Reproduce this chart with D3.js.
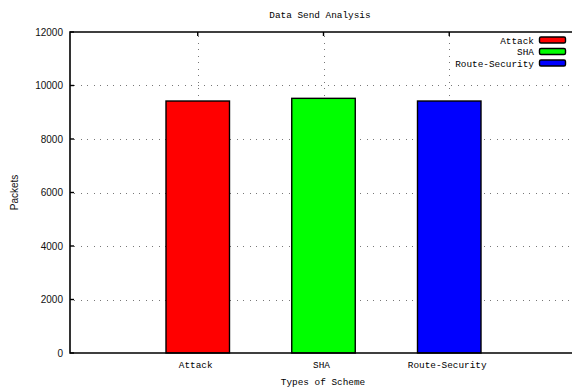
<!DOCTYPE html>
<html>
<head>
<meta charset="utf-8">
<script src="https://cdn.jsdelivr.net/npm/d3@7/dist/d3.min.js"></script>
<style>
  html, body { margin: 0; padding: 0; background: #fff; }
  svg { display: block; }
  .mono { font-family: "Liberation Mono", "DejaVu Sans Mono", monospace; font-size: 9.4px; fill: #000; }
  .sans { font-family: "Liberation Sans", Arial, sans-serif; font-size: 10px; fill: #111; }
</style>
</head>
<body>
<script>
// Packets sent per scheme
const categories = ["Attack", "SHA", "Route-Security"];
const packets = [9420, 9520, 9420];
const colors = ["#ff0000", "#00ff00", "#0000ff"];
const yTicks = [0, 2000, 4000, 6000, 8000, 10000, 12000];

const W = 572, H = 387;
const plotL = 70, plotT = 32, plotB = 353, plotR = 572;

const svg = d3.select("body").append("svg").attr("width", W).attr("height", H);

const x = d3.scaleLinear().domain([-1, 3]).range([plotL + 2, plotR + 3]);
const y = d3.scaleLinear().domain([0, 12000]).range([plotB, plotT]);
const barW = 0.505;

// dotted grid
const grid = svg.append("g").attr("stroke", "#777").attr("stroke-width", 1)
  .attr("stroke-dasharray", "1,5.5").attr("shape-rendering", "crispEdges");
grid.selectAll("line.h").data(yTicks.filter(d => d > 0 && d < 12000)).join("line")
  .attr("x1", plotL + 4).attr("x2", plotR)
  .attr("y1", d => Math.round(y(d)) + 0.5).attr("y2", d => Math.round(y(d)) + 0.5);
grid.selectAll("line.v").data(categories.map((c, i) => i)).join("line")
  .attr("x1", d => Math.round(x(d)) + 0.5).attr("x2", d => Math.round(x(d)) + 0.5)
  .attr("y1", plotT + 4).attr("y2", plotB);

// bars
svg.append("g").selectAll("rect").data(packets).join("rect")
  .attr("x", (d, i) => x(i - barW / 2))
  .attr("width", x(barW) - x(0))
  .attr("y", d => y(d))
  .attr("height", d => y(0) - y(d))
  .attr("fill", (d, i) => colors[i])
  .attr("stroke", "#000").attr("stroke-width", 1.4);

// border: left, bottom, top
const border = svg.append("g").attr("stroke", "#000").attr("stroke-width", 1.6).attr("fill", "none");
border.append("path").attr("d", `M${plotR},${plotT}H${plotL}V${plotB}H${plotR}`);

// y tick marks and labels
const ya = svg.append("g");
ya.selectAll("line").data(yTicks).join("line")
  .attr("x1", plotL).attr("x2", plotL + 4)
  .attr("y1", d => y(d)).attr("y2", d => y(d))
  .attr("stroke", "#000").attr("stroke-width", 1.4);
ya.selectAll("text").data(yTicks).join("text")
  .attr("class", "sans")
  .attr("x", plotL - 7).attr("y", d => y(d) + 3.5)
  .attr("text-anchor", "end")
  .text(d => d);

// x tick marks on top border and labels
const xa = svg.append("g");
xa.selectAll("line").data(categories.map((c, i) => i)).join("line")
  .attr("x1", d => x(d)).attr("x2", d => x(d))
  .attr("y1", plotT).attr("y2", plotT + 4)
  .attr("stroke", "#000").attr("stroke-width", 1.4);
xa.selectAll("text").data(categories).join("text")
  .attr("class", "mono")
  .attr("x", (d, i) => x(i) - 2).attr("y", 368)
  .attr("text-anchor", "middle")
  .text(d => d);

// titles
svg.append("text").attr("class", "mono").attr("x", 320).attr("y", 18)
  .attr("text-anchor", "middle").text("Data Send Analysis");
svg.append("text").attr("class", "mono").attr("x", 323).attr("y", 385)
  .attr("text-anchor", "middle").text("Types of Scheme");
svg.append("text").attr("class", "sans")
  .attr("transform", `translate(18,${(plotT + plotB) / 2}) rotate(-90)`)
  .attr("text-anchor", "middle").text("Packets");

// legend
const lg = svg.append("g");
categories.forEach((c, i) => {
  const ly = 40 + i * 11.5;
  lg.append("text").attr("class", "mono").attr("x", 534).attr("y", ly + 3.5)
    .attr("text-anchor", "end").text(c);
  lg.append("rect").attr("x", 539.5).attr("y", ly - 3).attr("width", 26).attr("height", 6)
    .attr("rx", 1.5).attr("fill", colors[i]).attr("stroke", "#000").attr("stroke-width", 1.4);
});
</script>
</body>
</html>
